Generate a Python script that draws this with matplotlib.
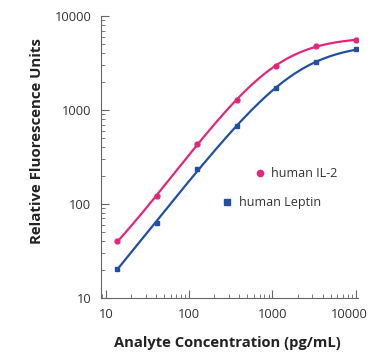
import numpy as np
import matplotlib.pyplot as plt
import matplotlib.transforms as mtransforms
from matplotlib.ticker import LogLocator, NullFormatter, FixedLocator

# 3-fold dilution series, pg/mL
conc = [13.7, 41, 123, 370, 1111, 3333, 10000]
il2 = [40, 122, 435, 1275, 2950, 4800, 5560]
leptin = [20.4, 63, 235, 680, 1700, 3230, 4450]
ticks = [10, 100, 1000, 10000]
tick_labels = ['10', '100', '1000', '10000']

c_il2 = '#e0287a'
c_lep = '#2150a3'

plt.rcParams['font.family'] = ['Open Sans', 'DejaVu Sans']

fig = plt.figure(figsize=(3.7, 3.58), dpi=100)
ax = fig.add_axes([0.273, 0.168, 0.695, 0.787])


def four_pl(x, p):
    a, b, lc, d = p
    return d + (a - d) / (1 + (x / 10 ** lc) ** b)


def fit_4pl(x, y):
    # small Levenberg-Marquardt on log residuals
    x = np.asarray(x, float)
    ly = np.log10(np.asarray(y, float))
    p = np.array([0.0, 1.0, np.log10(np.median(x)), max(y) * 1.1])

    def res(p):
        f = four_pl(x, p)
        f = np.where(f > 1e-6, f, 1e-6)
        return np.log10(f) - ly

    lam = 1e-2
    r = res(p)
    for _ in range(300):
        J = np.zeros((len(x), 4))
        for k in range(4):
            dp = np.zeros(4)
            dp[k] = 1e-6 * max(1.0, abs(p[k]))
            J[:, k] = (res(p + dp) - r) / dp[k]
        A = J.T @ J
        g = J.T @ r
        step = np.linalg.solve(A + lam * np.diag(np.diag(A) + 1e-12), -g)
        pn = p + step
        rn = res(pn)
        if np.sum(rn ** 2) < np.sum(r ** 2):
            p, r = pn, rn
            lam *= 0.3
        else:
            lam *= 5
    return p


for y, c, m in [(il2, c_il2, 'o'), (leptin, c_lep, 's')]:
    p = fit_4pl(conc, y)
    xs = np.logspace(np.log10(conc[0]), np.log10(conc[-1]), 200)
    ax.plot(xs, four_pl(xs, p), color=c, lw=1.6)
    ax.plot(conc, y, m, color=c, ms=3.5, lw=0)

ax.set_xscale('log')
ax.set_yscale('log')
ax.set_xlim(8.7, 10700)
ax.set_ylim(10, 10000)

ax.xaxis.set_major_locator(FixedLocator(ticks))
ax.yaxis.set_major_locator(FixedLocator(ticks))
ax.xaxis.set_minor_locator(LogLocator(base=10, subs=np.arange(2, 10), numticks=10))
ax.yaxis.set_minor_locator(LogLocator(base=10, subs=np.arange(2, 10), numticks=10))
ax.xaxis.set_minor_formatter(NullFormatter())
ax.yaxis.set_minor_formatter(NullFormatter())
ax.set_xticklabels(tick_labels)
ax.set_yticklabels(tick_labels)

for s in ['top', 'right']:
    ax.spines[s].set_visible(False)
for s in ['left', 'bottom']:
    ax.spines[s].set_color('#666666')
    ax.spines[s].set_linewidth(0.8)

ax.tick_params(which='both', direction='in', color='#666666', labelsize=9.3, labelcolor='#333333')
ax.tick_params(which='major', length=6, width=0.8, pad=7)
ax.tick_params(which='minor', length=3, width=0.6)

# keep the last x label inside the figure
lab = ax.get_xticklabels()[-1]
lab.set_transform(lab.get_transform() + mtransforms.ScaledTranslation(-6 / 100, 0, fig.dpi_scale_trans))

ax.set_xlabel('Analyte Concentration (pg/mL)', fontsize=10.6, fontweight='bold', color='#222222')
ax.set_ylabel('Relative Fluorescence Units', fontsize=10.8, fontweight='bold', color='#222222')
ax.xaxis.set_label_coords(0.49, -0.135)
ax.yaxis.set_label_coords(-0.22, 0.557)

# staggered legend entries
ax.plot([0.62], [0.443], 'o', color=c_il2, ms=4.5, transform=ax.transAxes, clip_on=False)
ax.text(0.66, 0.443, 'human IL-2', transform=ax.transAxes, fontsize=9, va='center', color='#333333')
ax.plot([0.49], [0.34], 's', color=c_lep, ms=4, transform=ax.transAxes, clip_on=False)
ax.text(0.535, 0.34, 'human Leptin', transform=ax.transAxes, fontsize=9, va='center', color='#333333')

fig.savefig('out.png', dpi=100)
